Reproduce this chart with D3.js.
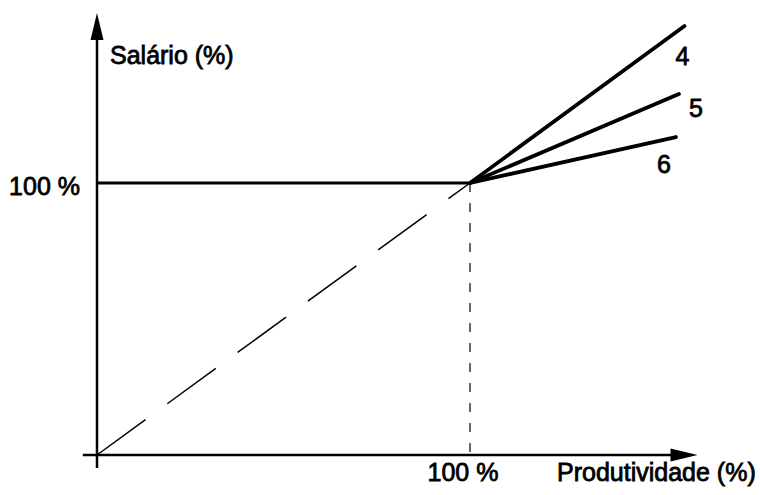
<!DOCTYPE html>
<html>
<head>
<meta charset="utf-8">
<script src="https://cdn.jsdelivr.net/npm/d3@7"></script>
<style>
  body { margin: 0; background: #fff; }
  text { font-family: "Liberation Sans", Arial, sans-serif; fill: #000; }
</style>
</head>
<body>
<div id="chart"></div>
<script>
// data (percent units)
var wageFloor = [[0, 100], [100, 100]];
var seriesNames = ["4", "5", "6"];
var seriesEnds = [[157.5, 157.7], [156, 132.7], [155.2, 116.9]];
var pivot = [100, 100];
var xLabels = ["100 %", "Produtividade (%)"];
var yLabels = ["100 %", "Salário (%)"];

// label offsets from line ends, in px
var labelOffsets = [[-2, 39], [17, 23], [-12, 36]];

var width = 761, height = 495;
var textStroke = 0.8;

var xScale = d3.scaleLinear().domain([0, 100]).range([97, 470]);
var yScale = d3.scaleLinear().domain([0, 100]).range([455, 183]);

var svg = d3.select("#chart").append("svg")
    .attr("width", width)
    .attr("height", height);

// axes with arrowheads
var xAxisEnd = xScale(161), yAxisEnd = yScale(162.5);

svg.append("line")
    .attr("x1", xScale(-3.8)).attr("y1", yScale(0))
    .attr("x2", xAxisEnd - 20).attr("y2", yScale(0))
    .attr("stroke", "#000").attr("stroke-width", 2.5);

svg.append("path")
    .attr("d", "M" + xAxisEnd + "," + yScale(0) +
        " L" + (xAxisEnd - 27) + "," + (yScale(0) - 6.5) +
        " L" + (xAxisEnd - 27) + "," + (yScale(0) + 6.5) + " Z")
    .attr("fill", "#000");

svg.append("line")
    .attr("x1", xScale(0)).attr("y1", yScale(-4.8))
    .attr("x2", xScale(0)).attr("y2", yAxisEnd + 20)
    .attr("stroke", "#000").attr("stroke-width", 2.5);

svg.append("path")
    .attr("d", "M" + xScale(0) + "," + yAxisEnd +
        " L" + (xScale(0) - 6.5) + "," + (yAxisEnd + 27) +
        " L" + (xScale(0) + 6.5) + "," + (yAxisEnd + 27) + " Z")
    .attr("fill", "#000");

var line = d3.line()
    .x(function(d) { return xScale(d[0]); })
    .y(function(d) { return yScale(d[1]); });

// dashed diagonal 1:1 reference
svg.append("path")
    .attr("d", line([[0, 0], pivot]))
    .attr("fill", "none")
    .attr("stroke", "#000")
    .attr("stroke-width", 1.5)
    .attr("stroke-dasharray", "60,27");

// dashed drop line at 100 % productivity
svg.append("path")
    .attr("d", line([pivot, [pivot[0], 0]]))
    .attr("fill", "none")
    .attr("stroke", "#000")
    .attr("stroke-width", 1.2)
    .attr("stroke-dasharray", "9,11");

// flat wage segment
svg.append("path")
    .attr("d", line(wageFloor))
    .attr("fill", "none")
    .attr("stroke", "#000")
    .attr("stroke-width", 3.2);

// fan of lines 4, 5, 6
svg.selectAll(".fan")
    .data(seriesEnds)
    .enter()
    .append("path")
    .attr("class", "fan")
    .attr("d", function(d) { return line([pivot, d]); })
    .attr("fill", "none")
    .attr("stroke", "#000")
    .attr("stroke-width", 3.8)
    .attr("stroke-linecap", "round");

svg.selectAll(".fanLabel")
    .data(seriesEnds)
    .enter()
    .append("text")
    .attr("class", "fanLabel")
    .attr("x", function(d, i) { return xScale(d[0]) + labelOffsets[i][0]; })
    .attr("y", function(d, i) { return yScale(d[1]) + labelOffsets[i][1]; })
    .attr("text-anchor", "middle")
    .attr("font-size", 25)
    .attr("stroke", "#000").attr("stroke-width", textStroke)
    .text(function(d, i) { return seriesNames[i]; });

// axis texts
svg.append("text")
    .attr("x", 80).attr("y", yScale(100) + 12)
    .attr("text-anchor", "end")
    .attr("font-size", 25)
    .attr("stroke", "#000").attr("stroke-width", textStroke)
    .text(yLabels[0]);

svg.append("text")
    .attr("x", 110).attr("y", 64)
    .attr("font-size", 25)
    .attr("stroke", "#000").attr("stroke-width", textStroke)
    .text(yLabels[1]);

svg.append("text")
    .attr("x", xScale(100) - 7).attr("y", 481)
    .attr("text-anchor", "middle")
    .attr("font-size", 25)
    .attr("stroke", "#000").attr("stroke-width", textStroke)
    .text(xLabels[0]);

svg.append("text")
    .attr("x", 557).attr("y", 481)
    .attr("font-size", 25)
    .attr("stroke", "#000").attr("stroke-width", textStroke)
    .text(xLabels[1]);
</script>
</body>
</html>
